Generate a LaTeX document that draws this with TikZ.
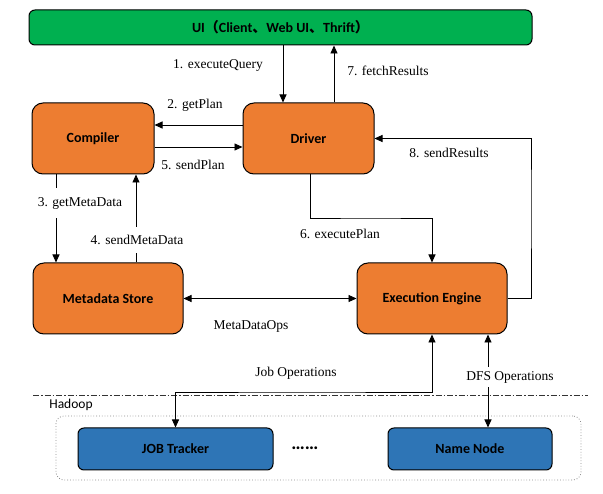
\documentclass[tikz,border=0pt]{standalone}
\usepackage{fontspec}
\setmainfont{Liberation Serif}
\setsansfont{Carlito}
\newfontfamily\cjk{Noto Sans CJK SC}
\usetikzlibrary{arrows.meta}

\definecolor{uigreen}{HTML}{00B050}
\definecolor{hiveorange}{HTML}{ED7D31}
\definecolor{hdpblue}{HTML}{2E75B6}

\begin{document}
\begin{tikzpicture}[x=1pt,y=-1pt]
	\tikzstyle{every node}+=[inner sep=0pt]
	\tikzstyle{box}=[draw=black,line width=1pt,rounded corners=11pt,font=\sffamily\bfseries\fontsize{14}{16}\selectfont]
	\tikzstyle{call}=[font=\fontsize{13.5}{16}\selectfont]
	\tikzstyle{flow}=[black,line width=0.9pt,-{Triangle[length=8pt,width=7pt]}]
	\tikzstyle{flow2}=[black,line width=0.9pt,{Triangle[length=8pt,width=7pt]}-{Triangle[length=8pt,width=7pt]}]
	\useasboundingbox (0,0) rectangle (603,494);
	% hive side
	\node [box,fill=uigreen,rounded corners=6pt,minimum width=503pt,minimum height=35pt] (ui) at (280.5,27.5) {UI{\cjk（}Client{\cjk、}Web UI{\cjk、}Thrift{\cjk）}};
	\node [box,fill=hiveorange,minimum width=122pt,minimum height=71pt] (comp) at (93,138.5) {Compiler};
	\node [box,fill=hiveorange,minimum width=131pt,minimum height=71pt] (drv) at (308.5,138.5) {Driver};
	\node [box,fill=hiveorange,minimum width=150pt,minimum height=71pt] (ms) at (108,298.5) {Metadata Store};
	\node [box,fill=hiveorange,minimum width=150pt,minimum height=71pt] (ee) at (432,298.5) {Execution Engine};
	% hadoop side
	\coordinate (s1) at (33,395);
	\coordinate (s2) at (588,395);
	\draw [black!80,line width=0.8pt,dash pattern=on 6pt off 2pt on 1.5pt off 2pt] (s1) -- (s2);
	\node [font=\sffamily\fontsize{13.5}{16}\selectfont] (hlbl) at (71,405) {Hadoop};
	\node [draw=black!45,line width=0.8pt,dotted,rounded corners=8pt,minimum width=525pt,minimum height=64pt] (hdp) at (318.5,448) {};
	\node [box,fill=hdpblue,rounded corners=6pt,minimum width=195pt,minimum height=42pt] (jt) at (175.5,449) {JOB Tracker};
	\node [box,fill=hdpblue,rounded corners=6pt,minimum width=164pt,minimum height=42pt] (nn) at (470,449) {Name Node};
	\node [font=\sffamily\bfseries\fontsize{19}{20}\selectfont] (dots) at (305,448) {……};
	% guides
	\coordinate (g1) at (283,0);
	\coordinate (g7) at (334,0);
	\coordinate (g2) at (0,125);
	\coordinate (g5) at (0,147);
	\coordinate (g3) at (56,0);
	\coordinate (g4) at (136,0);
	\coordinate (g6) at (310,0);
	\coordinate (gd) at (488,0);
	\coordinate (k6) at (370,218);
	\coordinate (k8) at (531,200);
	\coordinate (k9) at (300,392);
	% calls
	\draw [flow] (ui.south -| g1) -- (drv.north -| g1);
	\draw [flow] (drv.north -| g7) -- (ui.south -| g7);
	\draw [flow] (drv.west |- g2) -- (comp.east |- g2);
	\draw [flow] (comp.east |- g5) -- (drv.west |- g5);
	\draw [flow] (comp.south -| g3) -- (ms.north -| g3);
	\draw [flow] (ms.north -| g4) -- (comp.south -| g4);
	\draw [flow] (drv.south -| g6) |- (k6) -| (ee.north);
	\draw [flow] (ee.east) -| (k8) |- (drv.east);
	\draw [flow2] (ms.east) -- (ee.west);
	\draw [flow2] (ee.south) |- (k9) -| (jt.north);
	\draw [flow2] (ee.south -| gd) -- (nn.north -| gd);
	% labels
	\node [call] (l1) at (218,65) {1. executeQuery};
	\node [call] (l7) at (388,71) {7. fetchResults};
	\node [call] (l2) at (195,105) {2. getPlan};
	\node [call] (l5) at (193,165) {5. sendPlan};
	\node [call,fill=white,inner xsep=2pt,inner ysep=9pt] (l3) at (80,203) {3. getMetaData};
	\node [call,fill=white,inner xsep=2pt,inner ysep=8pt] (l4) at (137,240) {4. sendMetaData};
	\node [call] (l6) at (340,234) {6. executePlan};
	\node [call] (l8) at (449,153) {8. sendResults};
	\node [call] (lm) at (251,326) {MetaDataOps};
	\node [call] (lj) at (296,373) {Job Operations};
	\node [call,fill=white,inner xsep=2pt,inner ysep=4pt] (ld) at (510,377) {DFS Operations};
\end{tikzpicture}
\end{document}
